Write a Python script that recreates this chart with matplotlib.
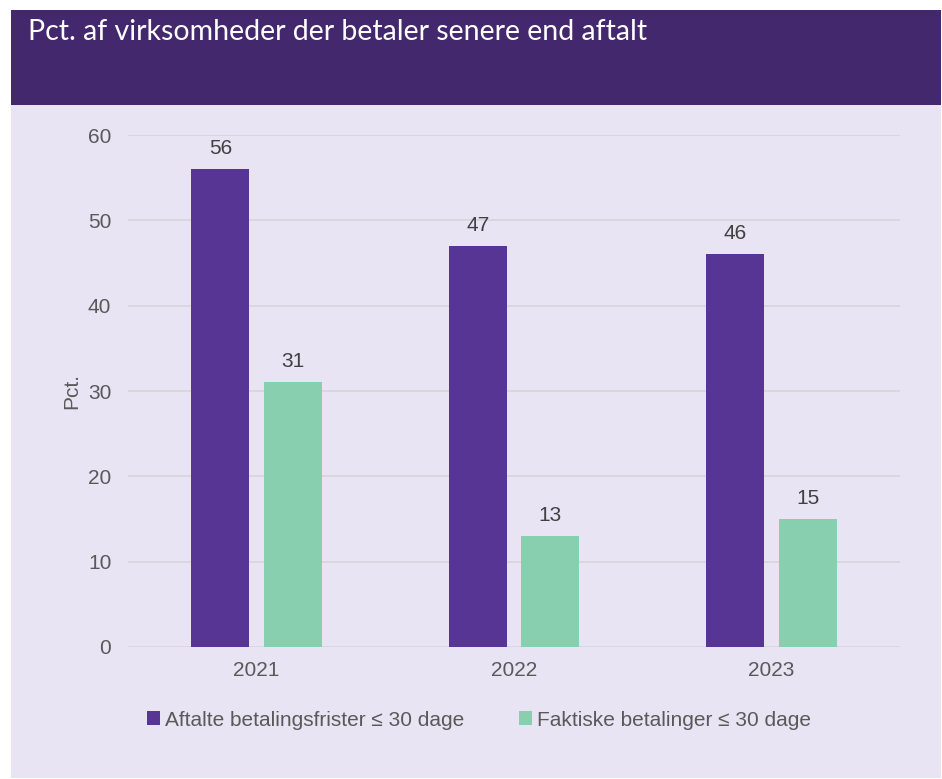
import numpy as np
import matplotlib.pyplot as plt
from matplotlib.patches import Rectangle

years = ['2021', '2022', '2023']
aftalte = [56, 47, 46]
faktiske = [31, 13, 15]
serie_navne = ['Aftalte betalingsfrister ≤ 30 dage', 'Faktiske betalinger ≤ 30 dage']

lilla = '#573594'
groen = '#88cfb0'
header = '#43286e'
baggrund = '#e9e4f4'
tekst = '#595959'

plt.rcParams['font.family'] = ['Liberation Sans', 'DejaVu Sans']

fig = plt.figure(figsize=(9.42, 7.79), dpi=100)
fig.patch.set_facecolor('white')

# baggrund og titelbjælke
fig.add_artist(Rectangle((11 / 942, 1 - 778 / 779), 930 / 942, 673 / 779,
                         transform=fig.transFigure, facecolor=baggrund, edgecolor='none', zorder=0))
fig.add_artist(Rectangle((11 / 942, 1 - 105 / 779), 930 / 942, 95 / 779,
                         transform=fig.transFigure, facecolor=header, edgecolor='none', zorder=0))
fig.text(28 / 942, 1 - 32 / 779, 'Pct. af virksomheder der betaler senere end aftalt',
         color='white', fontsize=20.5, family=['Lato', 'DejaVu Sans'], va='center', ha='left')

ax = fig.add_axes([128 / 942, 1 - 647 / 779, 772 / 942, 512 / 779])
ax.set_facecolor('none')

x = np.arange(len(years))
w = 0.225
b1 = ax.bar(x - 0.141, aftalte, w, color=lilla, label=serie_navne[0], zorder=3)
b2 = ax.bar(x + 0.141, faktiske, w, color=groen, label=serie_navne[1], zorder=3)
for bars in (b1, b2):
    ax.bar_label(bars, padding=8, fontsize=15, color='#404040')

ax.set_xlim(-0.5, 2.5)
ax.set_ylim(0, 60)
ax.set_yticks(range(0, 61, 10))
ax.set_xticks(x)
ax.set_xticklabels(years)
ax.grid(axis='y', color='#d9d5dc', linewidth=1.3, zorder=0)
ax.tick_params(length=0, labelsize=15, colors=tekst)
ax.tick_params(axis='y', pad=12)
ax.tick_params(axis='x', pad=10)
for s in ax.spines.values():
    s.set_visible(False)
ax.set_ylabel('Pct.', fontsize=15, color=tekst, labelpad=5)

fig.legend(loc='center', bbox_to_anchor=(479 / 942, 1 - 720 / 779), ncol=2, frameon=False,
           fontsize=15, labelcolor=tekst, handlelength=0.65, handleheight=0.65,
           handletextpad=0.25, columnspacing=2.6)

fig.savefig('out.png', dpi=100)
